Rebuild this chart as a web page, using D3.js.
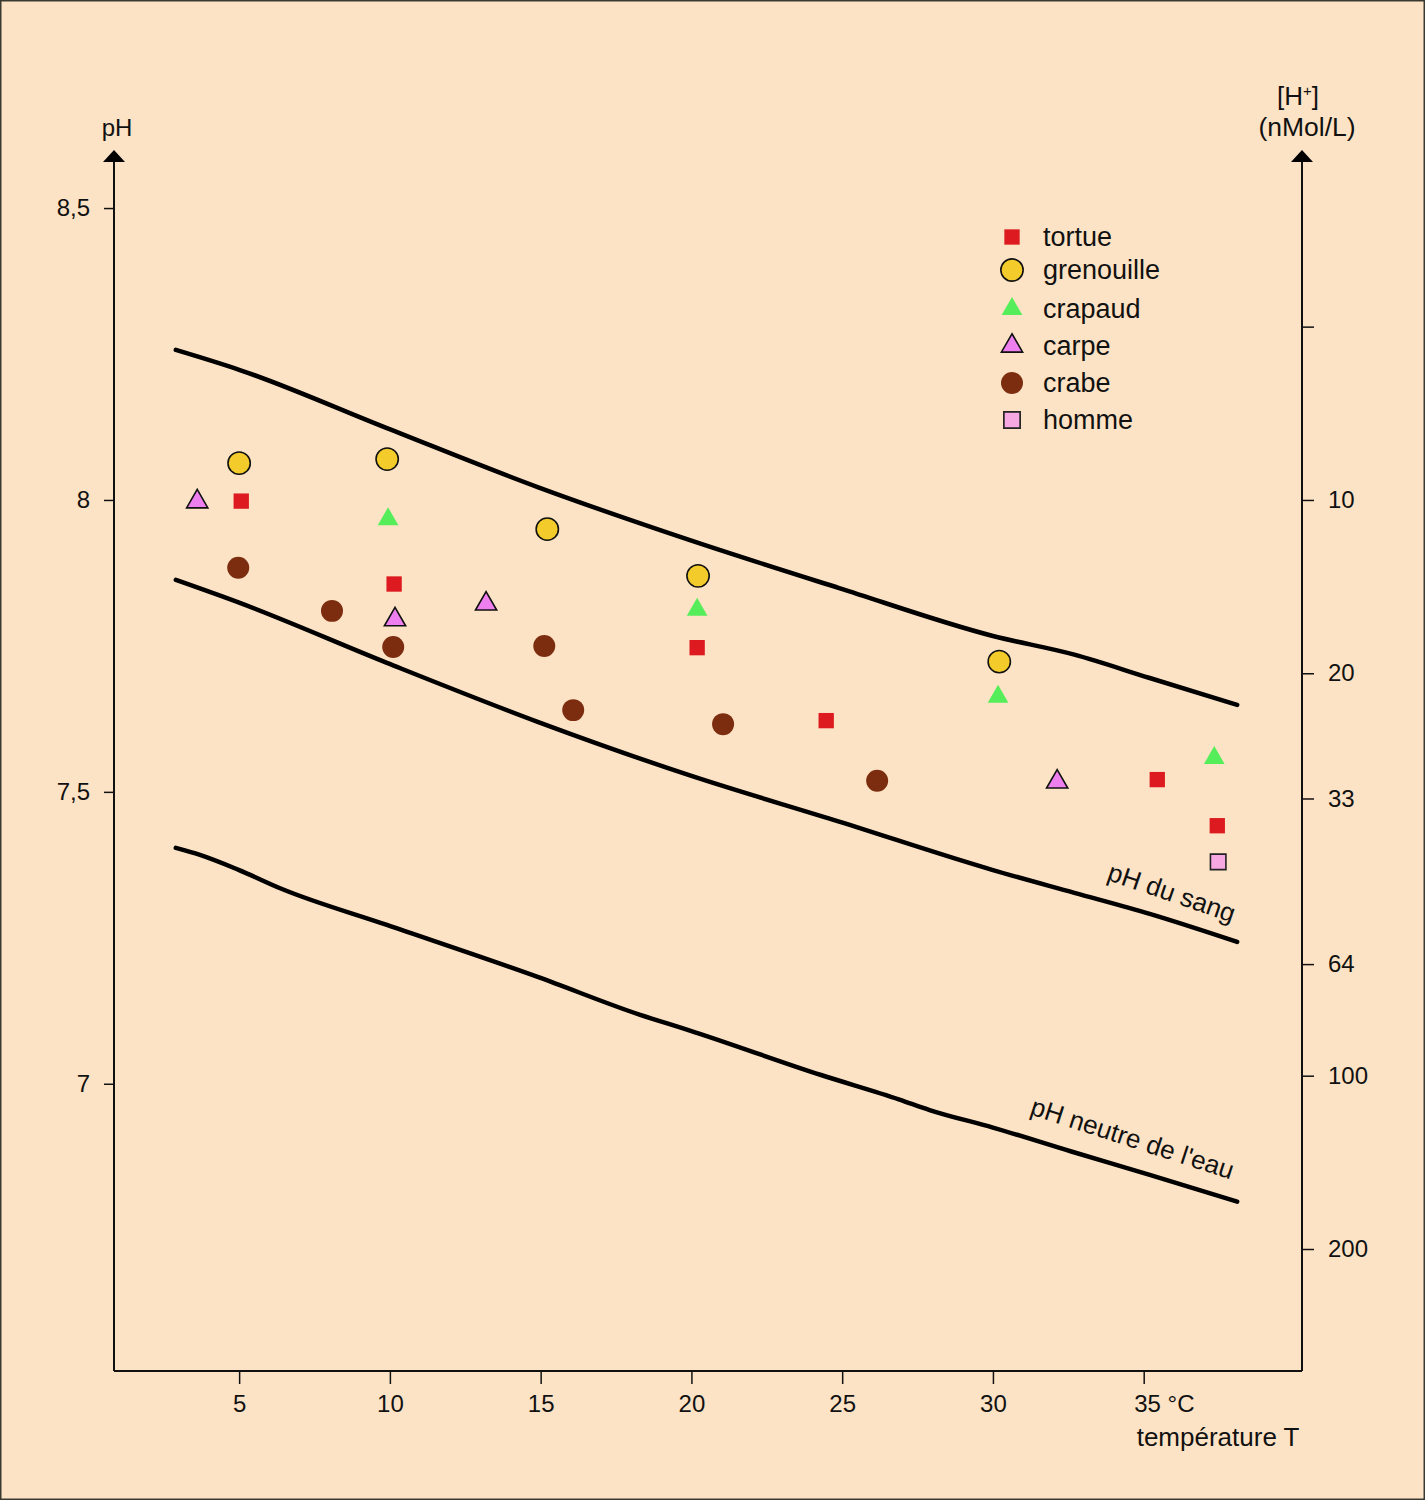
<!DOCTYPE html>
<html>
<head>
<meta charset="utf-8">
<script src="https://cdn.jsdelivr.net/npm/d3@7"></script>
<style>
  html, body { margin: 0; padding: 0; background: #fde3c5; }
  svg { display: block; }
  text { font-family: "Liberation Sans", Arial, sans-serif; fill: #111; }
</style>
</head>
<body>
<svg id="chart" width="1425" height="1500"></svg>
<script>
// ---------- DATA ----------
const phTicks = [8.5, 8, 7.5, 7];
const phTickLabels = ["8,5", "8", "7,5", "7"];
const tempTicks = [5, 10, 15, 20, 25, 30, 35];
const hTicks = [5, 10, 20, 33, 64, 100, 200];
const hTickLabels = ["", "10", "20", "33", "64", "100", "200"];

const curveTemps = [2.9, 5, 9.9, 14.9, 19.9, 24.9, 30, 32.7, 35.2, 38.1];
const upperLimit = [8.257, 8.223, 8.123, 8.022, 7.932, 7.849, 7.767, 7.735, 7.695, 7.649];
const bloodPH = [7.863, 7.824, 7.721, 7.620, 7.529, 7.449, 7.366, 7.327, 7.291, 7.243];
const neutralTemps = [2.9, 3.7, 5, 6.4, 9.9, 14.9, 18.3, 19.9, 24.3, 26.9, 27.9, 30, 32.6, 35.2, 38.1];
const neutralPH = [7.404, 7.392, 7.366, 7.334, 7.272, 7.183, 7.118, 7.092, 7.015, 6.973, 6.955, 6.925, 6.884, 6.844, 6.798];

const tortueT = [5.07, 10.14, 20.19, 24.47, 35.45, 37.44];
const tortuePH = [7.998, 7.856, 7.747, 7.622, 7.521, 7.442];
const grenouilleT = [5.0, 9.91, 15.22, 20.22, 30.21];
const grenouillePH = [8.063, 8.070, 7.950, 7.870, 7.723];
const crapaudT = [9.94, 20.19, 30.17, 37.34];
const crapaudPH = [7.967, 7.812, 7.663, 7.558];
const carpeT = [3.61, 10.17, 13.19, 32.13];
const carpePH = [7.997, 7.795, 7.822, 7.517];
const crabeT = [4.97, 8.08, 10.11, 15.12, 16.08, 21.05, 26.16];
const crabePH = [7.884, 7.810, 7.748, 7.750, 7.640, 7.616, 7.519];
const hommeT = [37.47];
const hommePH = [7.380];

const speciesNames = ["tortue", "grenouille", "crapaud", "carpe", "crabe", "homme"];

// ---------- SETUP ----------
const svg = d3.select("#chart");
const W = 1425, H = 1500;
svg.append("rect").attr("x", 0.75).attr("y", 0.75).attr("width", W - 1.5).attr("height", H - 1.5)
  .attr("fill", "#fde3c5").attr("stroke", "#3a3a30").attr("stroke-width", 1.5);

const x = d3.scaleLinear().domain([0.85, 40.25]).range([114, 1302]);
const y = d3.scaleLinear().domain([6.508, 8.596]).range([1371, 152]);
const yH = d3.scaleLog().domain([10, 200]).range([y(8), 1249]);

const axisColor = "#111";
const FONT = "Liberation Sans, Arial, sans-serif";

// Left axis
const gL = svg.append("g").attr("transform", `translate(${x.range()[0]},0)`);
gL.call(d3.axisLeft(y).tickValues(phTicks).tickSize(10).tickPadding(14)
  .tickFormat((d, i) => phTickLabels[i]));
gL.select(".domain").remove();
gL.selectAll("line").attr("stroke", axisColor).attr("stroke-width", 1.5);
gL.selectAll("text").attr("font-size", 24).attr("font-family", FONT).attr("fill", "#111");
gL.append("line").attr("x1", 0).attr("x2", 0).attr("y1", 1371).attr("y2", 160)
  .attr("stroke", axisColor).attr("stroke-width", 2);
gL.append("path").attr("d", "M-11,162 L0,150 L11,162 Z").attr("fill", "#000");
svg.append("text").attr("x", 117).attr("y", 136).attr("text-anchor", "middle")
  .attr("font-size", 24).text("pH");

// Right axis
const gR = svg.append("g").attr("transform", `translate(${x.range()[1]},0)`);
gR.call(d3.axisRight(yH).tickValues(hTicks).tickSize(12).tickPadding(14)
  .tickFormat((d, i) => hTickLabels[i]));
gR.select(".domain").remove();
gR.selectAll("line").attr("stroke", axisColor).attr("stroke-width", 1.5);
gR.selectAll("text").attr("font-size", 24).attr("font-family", FONT).attr("fill", "#111");
gR.append("line").attr("x1", 0).attr("x2", 0).attr("y1", 1371).attr("y2", 160)
  .attr("stroke", axisColor).attr("stroke-width", 2);
gR.append("path").attr("d", "M-11,162 L0,150 L11,162 Z").attr("fill", "#000");
const hTitle = svg.append("text").attr("x", 1298).attr("y", 105).attr("text-anchor", "middle").attr("font-size", 26);
hTitle.append("tspan").text("[H");
hTitle.append("tspan").attr("font-size", 15).attr("dy", -9).text("+");
hTitle.append("tspan").attr("dy", 9).text("]");
svg.append("text").attr("x", 1307).attr("y", 136).attr("text-anchor", "middle").attr("font-size", 26.5).text("(nMol/L)");

// Bottom axis
const gB = svg.append("g").attr("transform", `translate(0,${y.range()[0]})`);
gB.call(d3.axisBottom(x).tickValues(tempTicks).tickSize(13).tickPadding(11).tickFormat(d => d));
gB.select(".domain").remove();
gB.selectAll("line").attr("stroke", axisColor).attr("stroke-width", 1.5);
gB.selectAll("text").attr("font-size", 24).attr("font-family", FONT).attr("fill", "#111");
gB.selectAll(".tick").filter(d => d === 35).select("text")
  .attr("text-anchor", "start").attr("dx", -10).text("35 °C");
gB.append("line").attr("x1", 114).attr("x2", 1302).attr("y1", 0).attr("y2", 0)
  .attr("stroke", axisColor).attr("stroke-width", 2);
svg.append("text").attr("x", x(35) - 7).attr("y", 1446).attr("font-size", 26).text("température T");

// ---------- CURVES ----------
const line = d3.line().x(d => x(d[0])).y(d => y(d[1])).curve(d3.curveMonotoneX);
function drawCurve(ts, vs) {
  svg.append("path").datum(ts.map((t, i) => [t, vs[i]]))
    .attr("d", line).attr("fill", "none").attr("stroke", "#000")
    .attr("stroke-width", 4.5).attr("stroke-linecap", "round");
}
drawCurve(curveTemps, upperLimit);
drawCurve(curveTemps, bloodPH);
drawCurve(neutralTemps, neutralPH);

// curve labels
svg.append("text").attr("transform", `translate(${x(33.75)},${y(7.35)}) rotate(19)`)
  .attr("font-size", 26).text("pH du sang");
svg.append("text").attr("transform", `translate(${x(31.2)},${y(6.948)}) rotate(18)`)
  .attr("font-size", 26).text("pH neutre de l'eau");

// ---------- SYMBOLS ----------
const styles = {
  tortue:     { type: d3.symbolSquare,   size: 235, fill: "#dc1a1f", stroke: "none" },
  grenouille: { type: d3.symbolCircle,   size: 390, fill: "#f3cb2b", stroke: "#111" },
  crapaud:    { type: d3.symbolTriangle, size: 185, fill: "#55ee5a", stroke: "none" },
  carpe:      { type: d3.symbolTriangle, size: 195, fill: "#ee7fee", stroke: "#111" },
  crabe:      { type: d3.symbolCircle,   size: 380, fill: "#7c2d10", stroke: "none" },
  homme:      { type: d3.symbolSquare,   size: 240, fill: "#f5a8e2", stroke: "#222" }
};
const seriesData = {
  tortue: [tortueT, tortuePH],
  grenouille: [grenouilleT, grenouillePH],
  crapaud: [crapaudT, crapaudPH],
  carpe: [carpeT, carpePH],
  crabe: [crabeT, crabePH],
  homme: [hommeT, hommePH]
};
function sym(name) { const s = styles[name]; return d3.symbol().type(s.type).size(s.size)(); }

speciesNames.forEach(name => {
  const [ts, vs] = seriesData[name];
  const s = styles[name];
  svg.append("g").selectAll("path").data(ts.map((t, i) => [t, vs[i]])).join("path")
    .attr("d", sym(name))
    .attr("transform", d => `translate(${x(d[0])},${y(d[1])})`)
    .attr("fill", s.fill).attr("stroke", s.stroke).attr("stroke-width", 1.6);
});

// ---------- LEGEND ----------
const legendY = [237, 270, 309, 346, 383, 420];
const lg = svg.append("g");
speciesNames.forEach((name, i) => {
  const s = styles[name];
  const scale = name === "tortue" ? 1.0 : (name === "homme" ? 1.05 : 1.0);
  lg.append("path").attr("d", sym(name))
    .attr("transform", `translate(1012,${legendY[i]}) scale(${scale})`)
    .attr("fill", s.fill).attr("stroke", s.stroke).attr("stroke-width", 1.6);
  lg.append("text").attr("x", 1043).attr("y", legendY[i] + 9).attr("font-size", 27).text(name);
});
</script>
</body>
</html>
